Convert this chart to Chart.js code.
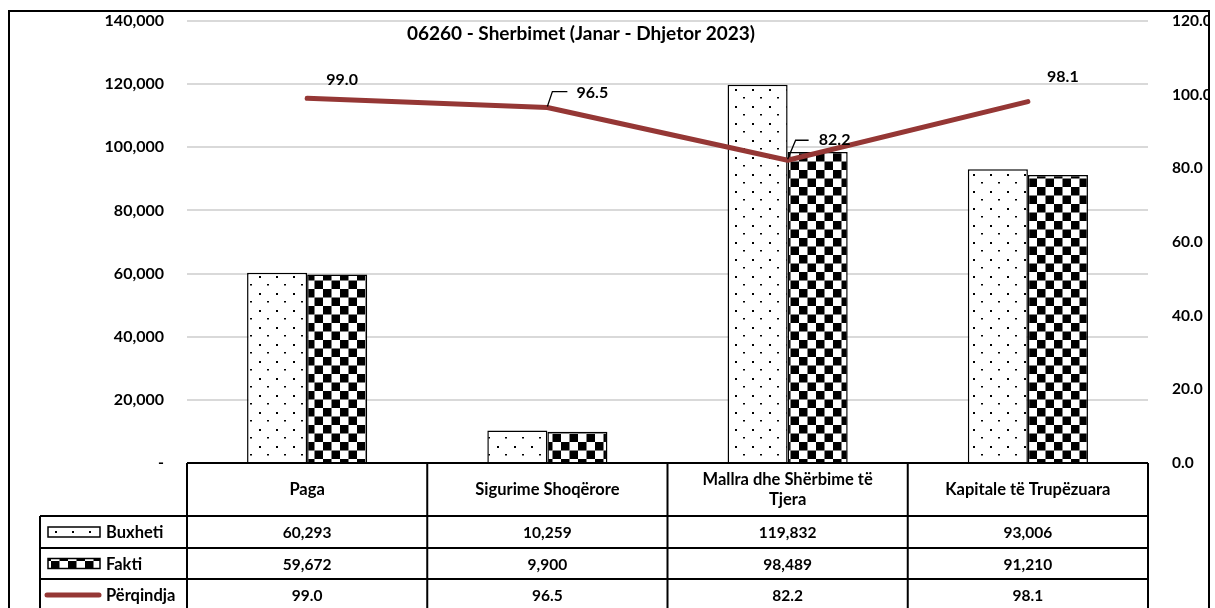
<!DOCTYPE html>
<html>
<head>
<meta charset="utf-8">
<script src="https://cdn.jsdelivr.net/npm/chart.js@4.4.1/dist/chart.umd.min.js"></script>
<style>
  html, body { margin: 0; padding: 0; background: #ffffff; }
  #wrap { width: 1215px; height: 608px; position: relative; }
</style>
</head>
<body>
<div id="wrap"><canvas id="c" width="1215" height="608"></canvas></div>
<script>
// ---- data ----
const categories = ['Paga', 'Sigurime Shoqërore', 'Mallra dhe Shërbime të Tjera', 'Kapitale të Trupëzuara'];
const buxheti = [60293, 10259, 119832, 93006];
const fakti = [59672, 9900, 98489, 91210];
const perqindja = [99.0, 96.5, 82.2, 98.1];
const seriesNames = ['Buxheti', 'Fakti', 'Përqindja'];
const chartTitle = '06260 - Sherbimet (Janar - Dhjetor 2023)';

// ---- style ----
const FONT = 'Lato, "Open Sans", sans-serif';
const LINE_COLOR = '#953735';
const GRID_COLOR = '#d9d9d9';

function makeDots() {
  const c = document.createElement('canvas');
  c.width = 17; c.height = 17;
  const g = c.getContext('2d');
  g.fillStyle = '#ffffff'; g.fillRect(0, 0, 17, 17);
  g.fillStyle = '#000000';
  g.fillRect(4, 4, 2, 2);
  g.fillRect(12, 12, 2, 1.5);
  return g.createPattern(c, 'repeat');
}
function makeChecker() {
  const c = document.createElement('canvas');
  c.width = 17; c.height = 17;
  const g = c.getContext('2d');
  g.fillStyle = '#ffffff'; g.fillRect(0, 0, 17, 17);
  g.fillStyle = '#000000';
  g.fillRect(0, 0, 8.5, 8.5);
  g.fillRect(8.5, 8.5, 8.5, 8.5);
  return g.createPattern(c, 'repeat');
}
const dotsPattern = makeDots();
const checkerPattern = makeChecker();

// label placement (style) for the line data labels
const labelOffsets = [
  { dx: 35, dy: -19, leader: null },
  { dx: 45, dy: -15, leader: { ex: 5, ey: -16, hx: 20 } },
  { dx: 47, dy: -20, leader: { ex: 8, ey: -20, hx: 21 } },
  { dx: 35, dy: -25, leader: null }
];

function fmtThousands(v) {
  return Math.round(v).toString().replace(/\B(?=(\d{3})+(?!\d))/g, ',');
}

const framePlugin = {
  id: 'frame',
  beforeDraw(chart) {
    const ctx = chart.ctx;
    ctx.save();
    ctx.fillStyle = '#fff';
    ctx.fillRect(0, 0, chart.width, chart.height);
    ctx.strokeStyle = '#000';
    ctx.lineWidth = 2;
    ctx.strokeRect(9, 11, 1200, 620);
    ctx.restore();
  }
};

const titlePlugin = {
  id: 'customTitle',
  afterDraw(chart) {
    const ctx = chart.ctx;
    ctx.save();
    ctx.font = 'bold 19px ' + FONT;
    ctx.fillStyle = '#000';
    ctx.textAlign = 'center';
    ctx.textBaseline = 'middle';
    ctx.fillText(chartTitle, 581, 34);
    ctx.restore();
  }
};

const lineLabelPlugin = {
  id: 'lineLabels',
  afterDatasetsDraw(chart) {
    const ctx = chart.ctx;
    const meta = chart.getDatasetMeta(2);
    ctx.save();
    ctx.font = 'bold 16px ' + FONT;
    ctx.fillStyle = '#000';
    ctx.textAlign = 'center';
    ctx.textBaseline = 'middle';
    meta.data.forEach((pt, i) => {
      const o = labelOffsets[i];
      if (o.leader) {
        const L = o.leader;
        ctx.strokeStyle = '#000';
        ctx.lineWidth = 1.3;
        ctx.beginPath();
        ctx.moveTo(pt.x, pt.y - 1);
        ctx.lineTo(pt.x + L.ex, pt.y + L.ey);
        ctx.lineTo(pt.x + L.hx, pt.y + L.ey);
        ctx.stroke();
      }
      ctx.fillText(perqindja[i].toFixed(1), pt.x + o.dx, pt.y + o.dy);
    });
    ctx.restore();
  }
};

function wrapText(ctx, text, maxW) {
  const words = text.split(' ');
  const lines = [];
  let cur = '';
  words.forEach(w => {
    const t = cur ? cur + ' ' + w : w;
    if (ctx.measureText(t).width > maxW && cur) { lines.push(cur); cur = w; }
    else cur = t;
  });
  if (cur) lines.push(cur);
  return lines;
}

const tablePlugin = {
  id: 'dataTable',
  afterDraw(chart) {
    const ctx = chart.ctx;
    const xs = chart.scales.x;
    const left = xs.left, right = xs.right;
    const n = categories.length;
    const cw = (right - left) / n;
    const top = chart.chartArea.bottom;
    const rows = [top, top + 53, top + 85, top + 116, top + 148];
    const legendLeft = 40;
    ctx.save();
    ctx.strokeStyle = '#000';
    ctx.lineWidth = 2;
    ctx.beginPath();
    ctx.moveTo(left, rows[0]); ctx.lineTo(right, rows[0]);
    for (let r = 1; r < rows.length; r++) {
      ctx.moveTo(legendLeft, rows[r]); ctx.lineTo(right, rows[r]);
    }
    for (let i = 0; i <= n; i++) {
      const x = left + i * cw;
      ctx.moveTo(x, rows[0]); ctx.lineTo(x, rows[4]);
    }
    ctx.moveTo(legendLeft, rows[1]); ctx.lineTo(legendLeft, rows[4]);
    ctx.stroke();

    ctx.fillStyle = '#000';
    ctx.textAlign = 'center';
    ctx.textBaseline = 'middle';
    ctx.font = 'bold 16.5px ' + FONT;
    categories.forEach((cat, i) => {
      const cx = xs.getPixelForValue(i);
      const lines = wrapText(ctx, cat, cw - 30);
      const lh = 20;
      const cy = (rows[0] + rows[1]) / 2;
      lines.forEach((ln, k) => {
        ctx.fillText(ln, cx, cy - (lines.length - 1) * lh / 2 + k * lh);
      });
    });
    ctx.font = 'bold 15.5px ' + FONT;
    const vals = [buxheti.map(fmtThousands), fakti.map(fmtThousands), perqindja.map(v => v.toFixed(1))];
    vals.forEach((arr, r) => {
      const cy = (rows[r + 1] + rows[r + 2]) / 2;
      arr.forEach((t, i) => {
        ctx.fillText(t, xs.getPixelForValue(i), cy + 1);
      });
    });
    ctx.textAlign = 'left';
    const keyX = 48, keyW = 52;
    const cy1 = (rows[1] + rows[2]) / 2, cy2 = (rows[2] + rows[3]) / 2, cy3 = (rows[3] + rows[4]) / 2;
    ctx.lineWidth = 1.5;
    ctx.fillStyle = dotsPattern;
    ctx.fillRect(keyX, cy1 - 5, keyW, 10);
    ctx.strokeRect(keyX, cy1 - 5, keyW, 10);
    ctx.fillStyle = checkerPattern;
    ctx.fillRect(keyX, cy2 - 5, keyW, 10);
    ctx.strokeRect(keyX, cy2 - 5, keyW, 10);
    ctx.strokeStyle = LINE_COLOR;
    ctx.lineWidth = 5;
    ctx.lineCap = 'round';
    ctx.beginPath();
    ctx.moveTo(keyX - 1, cy3); ctx.lineTo(keyX + keyW - 1, cy3);
    ctx.stroke();
    ctx.fillStyle = '#000';
    ctx.font = 'bold 16.5px ' + FONT;
    ctx.fillText(seriesNames[0], 106, cy1 + 1);
    ctx.fillText(seriesNames[1], 106, cy2 + 1);
    ctx.fillText(seriesNames[2], 106, cy3 + 1);
    ctx.restore();
  }
};

new Chart(document.getElementById('c'), {
  data: {
    labels: categories,
    datasets: [
      {
        type: 'bar', label: seriesNames[0], data: buxheti, yAxisID: 'y',
        backgroundColor: dotsPattern, borderColor: '#000', borderWidth: 1.5,
        categoryPercentage: 0.5, barPercentage: 1.0, order: 2
      },
      {
        type: 'bar', label: seriesNames[1], data: fakti, yAxisID: 'y',
        backgroundColor: checkerPattern, borderColor: '#000', borderWidth: 1.5,
        categoryPercentage: 0.5, barPercentage: 1.0, order: 2
      },
      {
        type: 'line', label: seriesNames[2], data: perqindja, yAxisID: 'y1',
        borderColor: LINE_COLOR, borderWidth: 5, pointRadius: 0,
        borderCapStyle: 'round', borderJoinStyle: 'round', tension: 0, fill: false, order: 1
      }
    ]
  },
  options: {
    responsive: false,
    animation: false,
    layout: { padding: { left: 8, right: 7, top: 21, bottom: 145 } },
    plugins: { legend: { display: false }, title: { display: false }, tooltip: { enabled: false } },
    scales: {
      x: { display: false, offset: true, grid: { display: false } },
      y: {
        position: 'left', min: 0, max: 140000,
        border: { display: false },
        grid: { color: GRID_COLOR, lineWidth: 2, drawTicks: false },
        ticks: {
          stepSize: 20000, padding: 23, color: '#000',
          font: { family: FONT, size: 16, weight: 'bold' },
          callback: v => v === 0 ? '-' : fmtThousands(v)
        },
        afterFit(s) { s.width = 179; s.paddingTop = 0; s.paddingBottom = 0; }
      },
      y1: {
        position: 'right', min: 0, max: 120,
        border: { display: false },
        grid: { drawOnChartArea: false, drawTicks: false },
        ticks: {
          stepSize: 20, padding: 24, color: '#000',
          font: { family: FONT, size: 15.5, weight: 'bold' },
          callback: v => v.toFixed(1)
        },
        afterFit(s) { s.width = 60; s.paddingTop = 0; s.paddingBottom = 0; }
      }
    }
  },
  plugins: [framePlugin, titlePlugin, lineLabelPlugin, tablePlugin]
});
</script>
</body>
</html>
